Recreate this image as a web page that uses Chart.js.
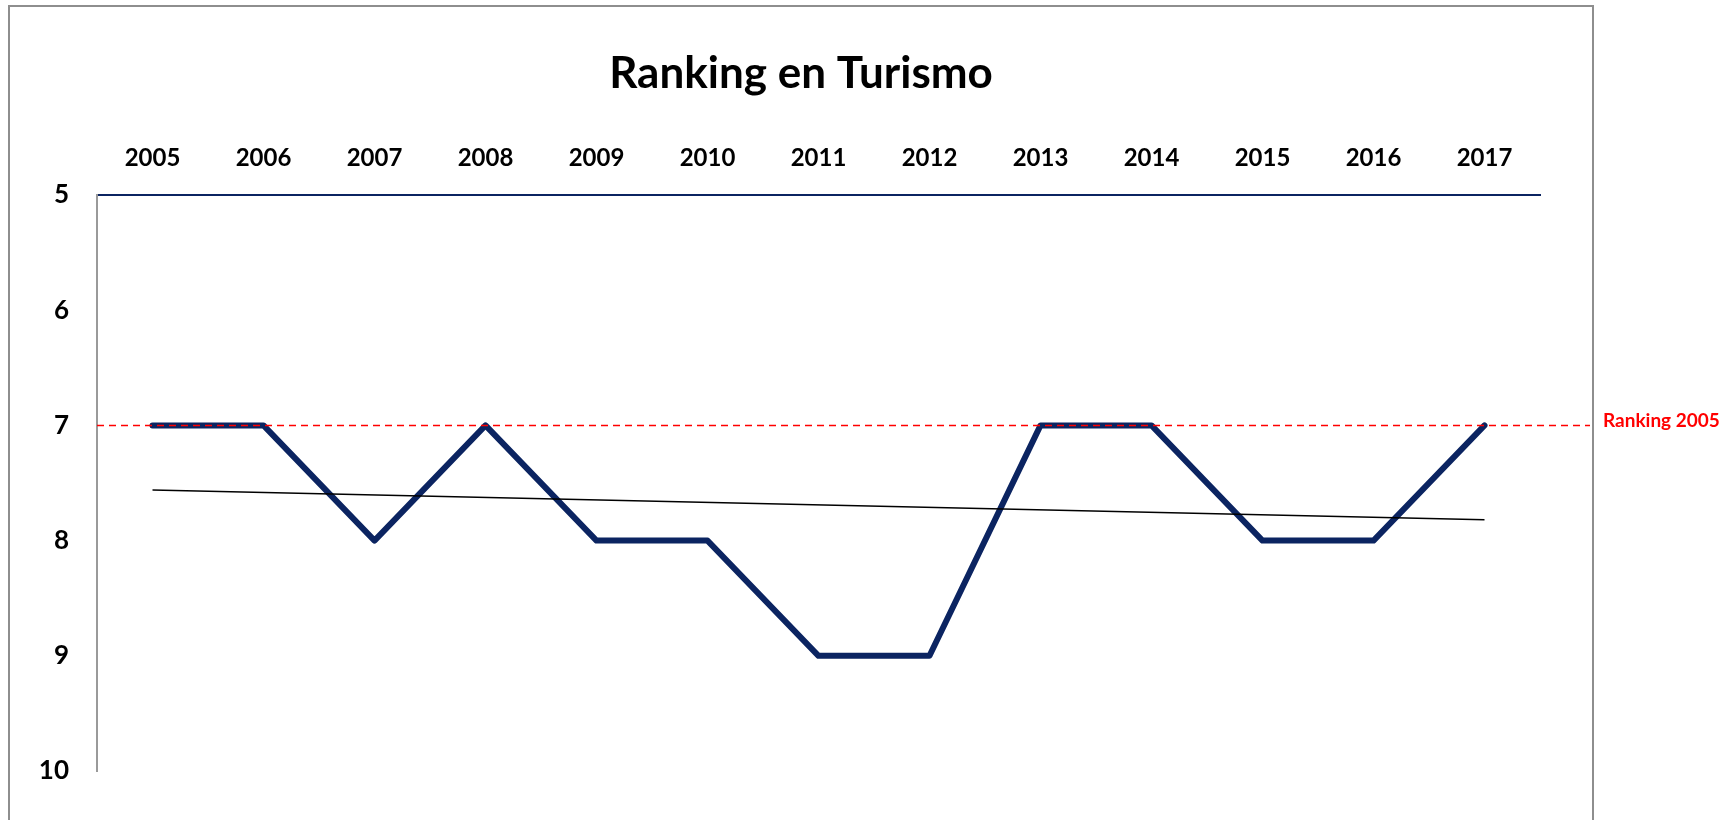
<!DOCTYPE html>
<html lang="es">
<head>
<meta charset="UTF-8" />
<title>Ranking en Turismo</title>
<script src="https://cdn.jsdelivr.net/npm/chart.js"></script>
<style>
    html, body { margin: 0; padding: 0; background: #fff; overflow: hidden; }
    #wrap { position: relative; width: 1731px; height: 820px; }
</style>
</head>
<body>
<div id="wrap">
    <canvas id="rankChart" width="1731" height="820"></canvas>
</div>
<script>
    // datos
    const years = ['2005', '2006', '2007', '2008', '2009', '2010', '2011', '2012', '2013', '2014', '2015', '2016', '2017'];
    const ranking = [7, 7, 8, 7, 8, 8, 9, 9, 7, 7, 8, 8, 7];
    // línea de tendencia: solo extremos (Excel lineal)
    const trendStart = 7.56;
    const trendEnd = 7.82;
    const trend = years.map((_, i) => i === 0 ? trendStart : (i === years.length - 1 ? trendEnd : null));
    const refValue = 7;
    const refLabel = 'Ranking 2005';
    const chartTitle = 'Ranking en Turismo';

    const FONT = 'Lato, "Open Sans", sans-serif';

    // marco exterior, título y línea roja de referencia
    const extras = {
        id: 'extras',
        beforeDraw(chart) {
            const c = chart.ctx;
            c.save();
            c.strokeStyle = '#8e8e8e';
            c.lineWidth = 2;
            c.strokeRect(9, 6, 1584, 840);
            // título centrado sobre el marco
            c.fillStyle = '#000';
            c.font = 'bold 44px ' + FONT;
            c.textAlign = 'center';
            c.textBaseline = 'alphabetic';
            c.fillText(chartTitle, 801, 88);
            c.restore();
        },
        afterDatasetsDraw(chart) {
            const c = chart.ctx;
            const y = chart.scales.y.getPixelForValue(refValue);
            c.save();
            c.strokeStyle = '#ff0000';
            c.lineWidth = 1.5;
            c.setLineDash([7, 5]);
            c.beginPath();
            c.moveTo(chart.chartArea.left, y);
            c.lineTo(1590, y);
            c.stroke();
            c.setLineDash([]);
            c.fillStyle = '#ff0000';
            c.font = 'bold 19px ' + FONT;
            c.textBaseline = 'middle';
            c.fillText(refLabel, 1603, y - 5);
            c.restore();
        }
    };

    new Chart(document.getElementById('rankChart'), {
        type: 'line',
        data: {
            labels: years,
            datasets: [
                {
                    label: 'Ranking',
                    data: ranking,
                    borderColor: '#0b2461',
                    borderWidth: 6,
                    borderCapStyle: 'round',
                    borderJoinStyle: 'round',
                    pointRadius: 0,
                    tension: 0,
                    order: 2
                },
                {
                    label: 'Tendencia',
                    data: trend,
                    spanGaps: true,
                    borderColor: '#000000',
                    borderWidth: 1.5,
                    pointRadius: 0,
                    tension: 0,
                    order: 1
                }
            ]
        },
        options: {
            responsive: false,
            animation: false,
            layout: { padding: { left: 0, right: 191, top: 95.6, bottom: 49 } },
            plugins: {
                legend: { display: false },
                tooltip: { enabled: false },
                title: { display: false }
            },
            scales: {
                x: {
                    position: 'top',
                    offset: true,
                    grid: { display: false, drawTicks: false },
                    border: { display: true, color: '#0b2461', width: 2 },
                    ticks: {
                        color: '#000',
                        padding: 22,
                        maxRotation: 0,
                        font: { family: FONT, size: 24, weight: 'bold' }
                    },
                    afterFit(scale) { scale.height = 99.4; }
                },
                y: {
                    reverse: true,
                    min: 5,
                    max: 10,
                    grid: { display: false, drawTicks: false },
                    border: { display: true, color: '#9a9a9a', width: 2 },
                    ticks: {
                        stepSize: 1,
                        color: '#000',
                        padding: 28,
                        font: { family: FONT, size: 26, weight: 'bold' }
                    },
                    afterFit(scale) { scale.width = 97; }
                }
            }
        },
        plugins: [extras]
    });
</script>
</body>
</html>
